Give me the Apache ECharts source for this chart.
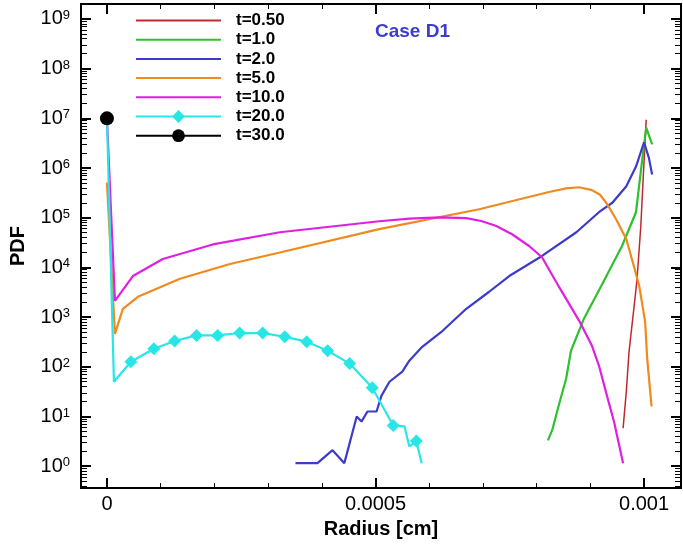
<!DOCTYPE html>
<html>
<head>
<meta charset="utf-8">
<script src="https://cdn.jsdelivr.net/npm/echarts@6/dist/echarts.min.js"></script>
<style>
html, body { margin: 0; padding: 0; background: #fff; }
#chart { width: 683px; height: 544px; }
</style>
</head>
<body>
<div id="chart"></div>
<script>
// radius [cm] / PDF pairs
const t05R = [0.000961, 0.000967, 0.000972, 0.000983, 0.000987, 0.000994, 0.000998, 0.001004];
const t05P = [5.8, 32, 200, 2300, 5900, 6.8e4, 5.1e5, 9.4e6];

const t1R = [0.000821, 0.000829, 0.000842, 0.000855, 0.000864, 0.000888, 0.000922, 0.000959, 0.000985, 0.000996, 0.001004, 0.001015];
const t1P = [3.3, 5.3, 18, 58, 210, 930, 4600, 2.7e4, 1.29e5, 1.3e6, 6.5e6, 3.0e6];

const t2R = [0.000351, 0.000392, 0.000420, 0.000442, 0.000465, 0.000474, 0.000485, 0.000502, 0.000511, 0.000526, 0.000550, 0.000563, 0.000587, 0.000625, 0.000669, 0.000711, 0.000749, 0.000810, 0.000874, 0.000916, 0.000941, 0.000967, 0.000985, 0.001000, 0.001009, 0.001015];
const t2P = [1.15, 1.15, 2.1, 1.15, 10, 7.9, 12.6, 12.6, 26, 50, 80, 133, 253, 530, 1470, 3200, 6700, 1.7e4, 5.1e4, 1.29e5, 2.0e5, 4.3e5, 1.07e6, 3.3e6, 1.6e6, 7.4e5];

const t5R = [0, 0.0000149, 0.0000297, 0.0000576, 0.000136, 0.000229, 0.000322, 0.000507, 0.000693, 0.000823, 0.000855, 0.000879, 0.000903, 0.000918, 0.000931, 0.000948, 0.000967, 0.000981, 0.000991, 0.001002, 0.001006, 0.001014];
const t5P = [5.1e5, 460, 1470, 2560, 5900, 1.17e4, 2.0e4, 5.9e4, 1.48e5, 3.3e5, 3.9e5, 4.1e5, 3.6e5, 2.9e5, 1.9e5, 9.3e4, 3.7e4, 1.07e4, 4250, 810, 140, 16];

const t10R = [0, 0.0000149, 0.0000483, 0.000104, 0.000197, 0.000322, 0.000507, 0.000563, 0.000619, 0.000669, 0.000697, 0.000725, 0.000755, 0.000786, 0.000810, 0.000842, 0.000879, 0.000903, 0.000916, 0.000931, 0.000944, 0.000961];
const t10P = [1e7, 2130, 6700, 1.48e4, 2.9e4, 5.1e4, 8.5e4, 9.6e4, 1.02e5, 9.8e4, 8.6e4, 6.8e4, 4.6e4, 2.7e4, 1.6e4, 4000, 850, 265, 106, 26, 7.9, 1.15];

// t=20: points with diamonds, and plain line points
const t20MarkR = [0.0000446, 0.0000874, 0.000126, 0.000167, 0.000206, 0.000247, 0.000290, 0.000331, 0.000372, 0.000411, 0.000452, 0.000494, 0.000533, 0.000576];
const t20MarkP = [126, 230, 330, 428, 428, 478, 478, 400, 320, 210, 116, 38, 6.6, 3.2];
const t20R = [0, 0.000013, 0.000554, 0.000563, 0.000586];
const t20P = [1e7, 50, 6.3, 2.5, 1.15];

const t30R = [0];
const t30P = [1e7];

const names = ['t=0.50', 't=1.0', 't=2.0', 't=5.0', 't=10.0', 't=20.0', 't=30.0'];

const xMajor = [0, 0.0005, 0.001];
const xMinor = [0.0001, 0.0002, 0.0003, 0.0004, 0.0006, 0.0007, 0.0008, 0.0009];
const yMajor = [1, 10, 1e2, 1e3, 1e4, 1e5, 1e6, 1e7, 1e8, 1e9];
const yMinor = [];
for (let k = -1; k <= 9; k++) {
  for (let m = 2; m <= 9; m++) yMinor.push(m * Math.pow(10, k));
}

const FONT = '"Liberation Sans", Arial, Helvetica, sans-serif';
const xMin = -0.0000483, xMax = 0.0010688;
const yMin = 0.362, yMax = 2.0e9;

function pairs(xs, ys) {
  return xs.map((x, i) => [x, ys[i]]);
}

const t20Data = t20MarkR.map((x, i) => ({ value: [x, t20MarkP[i]] }))
  .concat(t20R.map((x, i) => ({ value: [x, t20P[i]], symbol: 'none' })))
  .sort((a, b) => a.value[0] - b.value[0]);

function xAx(pos, ticks, len, w, labels) {
  return {
    type: 'value', position: pos, min: xMin, max: xMax,
    axisLine: { show: true, onZero: false, lineStyle: { color: '#000', width: 2 } },
    axisTick: { show: true, inside: true, length: len, customValues: ticks, lineStyle: { color: '#000', width: w } },
    axisLabel: labels ? {
      customValues: labels, margin: 6, color: '#000', fontFamily: FONT, fontSize: 20,
      formatter: v => String(+(+v).toPrecision(6))
    } : { show: false },
    splitLine: { show: false }
  };
}

function yAx(pos, ticks, len, w, labels) {
  return {
    type: 'log', position: pos, min: yMin, max: yMax,
    axisLine: { show: true, onZero: false, lineStyle: { color: '#000', width: 2 } },
    axisTick: { show: true, inside: true, length: len, customValues: ticks, lineStyle: { color: '#000', width: w } },
    axisLabel: labels ? {
      customValues: labels, margin: 11, color: '#000',
      formatter: v => '{b|10}{e|' + Math.round(Math.log10(v)) + '}',
      rich: {
        b: { fontFamily: FONT, fontSize: 20, color: '#000' },
        e: { fontFamily: FONT, fontSize: 13, color: '#000', verticalAlign: 'top' }
      }
    } : { show: false },
    splitLine: { show: false },
    minorTick: { show: false }
  };
}

const chart = echarts.init(document.getElementById('chart'));

const xAxes = [
  xAx('bottom', xMajor, 10, 2, xMajor),
  xAx('bottom', xMinor, 5, 1, null),
  xAx('top', xMajor, 10, 2, null),
  xAx('top', xMinor, 5, 1, null)
];
xAxes[0].name = 'Radius [cm]';
xAxes[0].nameLocation = 'middle';
xAxes[0].nameGap = 27;
xAxes[0].nameTextStyle = { fontFamily: FONT, fontSize: 20, fontWeight: 'bold', color: '#000' };

const yAxes = [
  yAx('left', yMajor, 10, 2, yMajor),
  yAx('left', yMinor, 6, 1, null),
  yAx('right', yMajor, 10, 2, null),
  yAx('right', yMinor, 6, 1, null)
];
yAxes[0].name = 'PDF';
yAxes[0].nameLocation = 'middle';
yAxes[0].nameGap = 53;
yAxes[0].nameTextStyle = { fontFamily: FONT, fontSize: 20, fontWeight: 'bold', color: '#000' };

function lineSeries(name, data, color, width) {
  return {
    name: name, type: 'line', data: data, symbol: 'none',
    color: color,
    lineStyle: { color: color, width: width },
    xAxisIndex: 0, yAxisIndex: 0
  };
}

// plain lines: hide the legend marker, keep the line
const legendData = names.map((n, i) => i < 5 ? { name: n, itemStyle: { opacity: 0 } } : n);

chart.setOption({
  animation: false,
  grid: { left: 81, right: 2, top: 4, bottom: 54 },
  graphic: [{
    type: 'text', left: 375, top: 22,
    style: { text: 'Case D1', fill: '#3c3cd2', font: 'bold 19px ' + FONT }
  }],
  legend: {
    orient: 'vertical', left: 135, top: 12, padding: 0,
    itemWidth: 85, itemHeight: 16, itemGap: 2.2,
    selectedMode: false,
    data: legendData,
    textStyle: { fontFamily: FONT, fontSize: 17, fontWeight: 'bold', color: '#000', lineHeight: 16, padding: [0, 0, 0, 10] }
  },
  xAxis: xAxes,
  yAxis: yAxes,
  series: [
    lineSeries(names[0], pairs(t05R, t05P), '#c0282d', 1.5),
    lineSeries(names[1], pairs(t1R, t1P), '#2ec02e', 2.2),
    lineSeries(names[2], pairs(t2R, t2P), '#3c3cc8', 2.2),
    lineSeries(names[3], pairs(t5R, t5P), '#f08a1e', 2.2),
    lineSeries(names[4], pairs(t10R, t10P), '#e020e0', 2.2),
    Object.assign(lineSeries(names[5], t20Data, '#28e6e6', 2.2), { symbol: 'diamond', symbolSize: 13, showSymbol: true }),
    Object.assign(lineSeries(names[6], pairs(t30R, t30P), '#000', 1), { symbol: 'circle', symbolSize: 14, showSymbol: true })
  ]
});
</script>
</body>
</html>
